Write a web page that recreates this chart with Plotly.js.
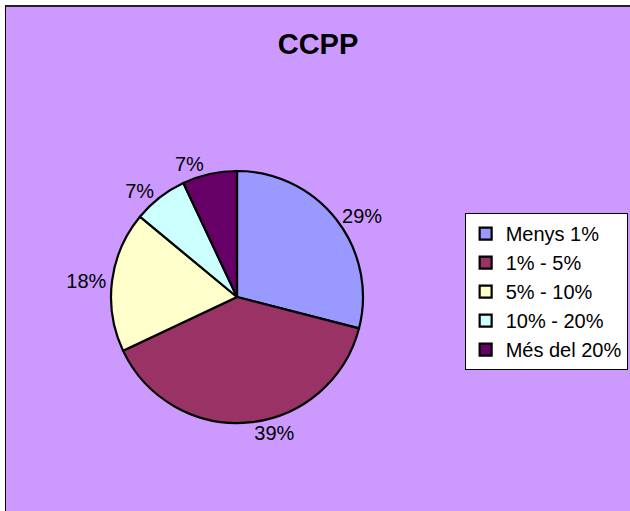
<!DOCTYPE html>
<html>
<head>
<meta charset="utf-8">
<script src="https://cdn.plot.ly/plotly-3.0.1.min.js"></script>
<style>
  html, body { margin: 0; padding: 0; background: #ffffff; width: 630px; height: 511px; overflow: hidden; }
  #chart { position: absolute; left: 5px; top: 5px; width: 625px; height: 506px;
           border-top: 2px solid #222; border-left: 1px solid #000; }
</style>
</head>
<body>
<div id="chart"></div>
<script>
const categories = ["Menys 1%", "1% - 5%", "5% - 10%", "10% - 20%", "Més del 20%"];
const shares = [29, 39, 18, 7, 7];
const sliceColors = ["#9999FF", "#993366", "#FFFFCC", "#CCFFFF", "#660066"];
const chartTitle = "CCPP";

const fontFam = "Arial, 'Liberation Sans', sans-serif";

const trace = {
  type: "pie",
  labels: categories,
  values: shares,
  sort: false,
  direction: "clockwise",
  rotation: 0,
  marker: { colors: sliceColors, line: { color: "#000000", width: 2.2 } },
  textinfo: "percent",
  textposition: "outside",
  outsidetextfont: { family: fontFam, size: 20, color: "#000000" },
  hoverinfo: "none",
  domain: { x: [0.1683, 0.5721], y: [0.1746, 0.6746] },
  automargin: false
};

const layout = {
  width: 624,
  height: 504,
  margin: { l: 0, r: 0, t: 0, b: 0 },
  paper_bgcolor: "#CC99FF",
  font: { family: fontFam, color: "#000000" },
  title: {
    text: "<b>" + chartTitle + "</b>",
    font: { family: fontFam, size: 29, color: "#000000" },
    x: 0.5, xref: "paper", xanchor: "center",
    y: 0.9266, yref: "paper", yanchor: "middle"
  },
  showlegend: true,
  legend: {
    x: 0.735, xanchor: "left",
    y: 0.591, yanchor: "top",
    bgcolor: "#FFFFFF",
    bordercolor: "#000000",
    borderwidth: 1,
    font: { family: fontFam, size: 20, color: "#000000" },
    traceorder: "normal"
  }
};

Plotly.newPlot("chart", [trace], layout, { staticPlot: true, displayModeBar: false });
</script>
</body>
</html>
